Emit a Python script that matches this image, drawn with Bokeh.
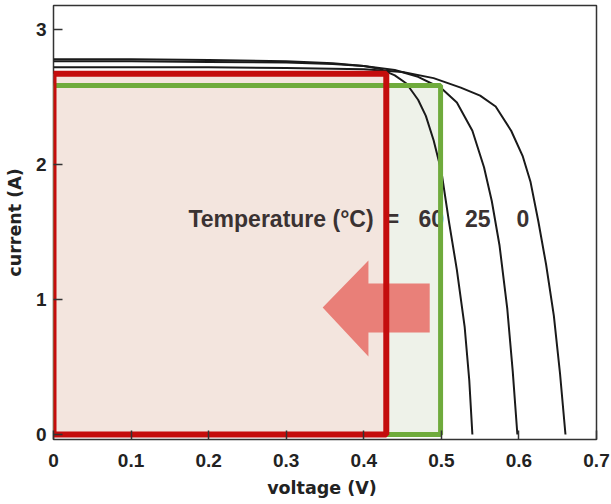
from bokeh.plotting import figure
from bokeh.models import Range1d, FixedTicker, ColumnDataSource
from bokeh.core.properties import value
from bokeh.embed import file_html
from bokeh.resources import INLINE

# ---- data ----
x_ticks = [0, 0.1, 0.2, 0.3, 0.4, 0.5, 0.6, 0.7]
x_tick_labels = ["0", "0.1", "0.2", "0.3", "0.4", "0.5", "0.6", "0.7"]
y_ticks = [0, 1, 2, 3]
y_tick_labels = ["0", "1", "2", "3"]

temps = ["60", "25", "0"]

v_60 = [0, 0.10, 0.20, 0.30, 0.36, 0.40, 0.42, 0.44, 0.455, 0.47, 0.48, 0.49, 0.50, 0.51, 0.52, 0.53, 0.536, 0.540]
i_60 = [2.78, 2.78, 2.775, 2.765, 2.75, 2.73, 2.71, 2.66, 2.60, 2.48, 2.36, 2.18, 1.95, 1.57, 1.22, 0.80, 0.40, 0.0]

v_25 = [0, 0.10, 0.20, 0.30, 0.36, 0.40, 0.44, 0.47, 0.50, 0.52, 0.54, 0.555, 0.565, 0.575, 0.585, 0.592, 0.598]
i_25 = [2.765, 2.765, 2.76, 2.755, 2.745, 2.73, 2.70, 2.65, 2.565, 2.46, 2.25, 1.98, 1.73, 1.40, 0.93, 0.47, 0.0]

v_0 = [0, 0.10, 0.20, 0.30, 0.40, 0.45, 0.49, 0.525, 0.55, 0.57, 0.59, 0.605, 0.615, 0.625, 0.635, 0.645, 0.653, 0.660]
i_0 = [2.72, 2.72, 2.72, 2.715, 2.705, 2.685, 2.64, 2.57, 2.51, 2.43, 2.25, 2.06, 1.87, 1.58, 1.26, 0.88, 0.45, 0.0]

# maximum power rectangles (voltage, current)
mpp_hot = (0.429, 2.672)    # red
mpp_cold = (0.499, 2.585)   # green

# arrow outline (voltage, current)
arrow_v = [0.347, 0.406, 0.406, 0.485, 0.485, 0.406, 0.406]
arrow_i = [0.941, 1.289, 1.119, 1.119, 0.756, 0.756, 0.578]

# annotation positions
label_title_pos = (0.174, 1.60)
label_eq_v = 0.437
label_temp_v = [0.487, 0.547, 0.605]

# ---- figure ----
p = figure(width=611, height=504, output_backend="svg", toolbar_location=None,
           x_range=Range1d(0, 0.7), y_range=Range1d(-0.037, 3.178),
           min_border_left=53, min_border_right=15, min_border_top=5,
           min_border_bottom=65, background_fill_color="white")
p.xgrid.visible = False
p.ygrid.visible = False
p.outline_line_color = "#333333"
p.outline_line_width = 1.5

RED = "#c40d0d"
GREEN = "#6fab3c"

# fills
p.quad(left=[0], right=[mpp_cold[0]], bottom=[0], top=[mpp_cold[1]],
       fill_color="#eef2e9", line_color=None)
p.quad(left=[0], right=[mpp_hot[0]], bottom=[0], top=[mpp_hot[1]],
       fill_color="#f3e5de", line_color=None)

# IV curves
for vv, ii in [(v_60, i_60), (v_25, i_25), (v_0, i_0)]:
    p.line(vv, ii, line_color="#1a1a1a", line_width=2)

# annotation text
TXT = "#3a3232"
FS = "23px"
p.text(x=[label_title_pos[0]], y=[label_title_pos[1]], text=["Temperature  (\u00b0C)"],
       text_font=value("Liberation Sans"), text_font_style="bold", text_font_size=FS,
       text_color=TXT, text_baseline="middle", text_align="left")
p.text(x=[label_eq_v], y=[label_title_pos[1]], text=["="],
       text_font=value("Liberation Sans"), text_font_style="bold", text_font_size=FS,
       text_color=TXT, text_baseline="middle", text_align="center")
src_t = ColumnDataSource(dict(x=label_temp_v, y=[label_title_pos[1]] * len(temps), t=temps))
p.text(x="x", y="y", text="t", source=src_t,
       text_font=value("Liberation Sans"), text_font_style="bold", text_font_size=FS,
       text_color=TXT, text_baseline="middle", text_align="center")

# arrow
p.patch(arrow_v, arrow_i, fill_color="#e8766f", fill_alpha=0.92, line_color=None)

# borders
p.quad(left=[0], right=[mpp_cold[0]], bottom=[0], top=[mpp_cold[1]],
       fill_color=None, line_color=GREEN, line_width=5)
p.quad(left=[0], right=[mpp_hot[0]], bottom=[0], top=[mpp_hot[1]],
       fill_color=None, line_color=RED, line_width=6)

# axes
p.xaxis.ticker = FixedTicker(ticks=x_ticks)
p.xaxis.major_label_overrides = {t: l for t, l in zip(x_ticks, x_tick_labels)}
p.yaxis.ticker = FixedTicker(ticks=y_ticks)
p.yaxis.major_label_overrides = {t: l for t, l in zip(y_ticks, y_tick_labels)}
p.xaxis.axis_label = "voltage  (V)"
p.yaxis.axis_label = "current (A)"

for ax in (p.xaxis[0], p.yaxis[0]):
    ax.axis_line_color = None
    ax.major_tick_in = 9
    ax.major_tick_out = 0
    ax.major_tick_line_color = "#333333"
    ax.major_tick_line_width = 1.5
    ax.minor_tick_line_color = None
    ax.major_label_text_font = "Liberation Sans"
    ax.major_label_text_font_style = "bold"
    ax.major_label_text_font_size = "19px"
    ax.major_label_text_color = "#222222"
    ax.axis_label_text_font = "DejaVu Sans"
    ax.axis_label_text_font_style = "bold"
    ax.axis_label_text_font_size = "17.5px"
    ax.axis_label_text_color = "#222222"

p.xaxis.major_label_standoff = 14
p.xaxis.axis_label_standoff = 8
p.yaxis.major_label_standoff = 7
p.yaxis.axis_label_standoff = 8

open("out.html", "w").write(file_html(p, INLINE))
